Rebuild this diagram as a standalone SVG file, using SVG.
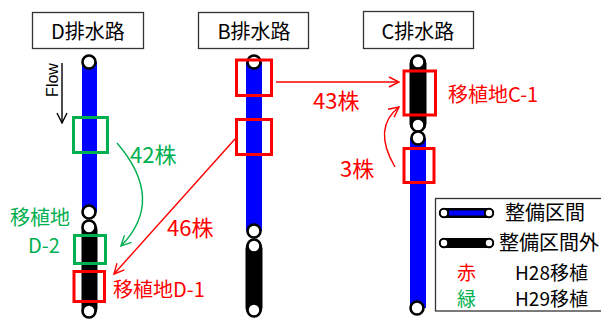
<svg xmlns="http://www.w3.org/2000/svg" width="601" height="321" viewBox="0 0 601 321">
<style>
text{font-family:"Noto Sans CJK JP","Liberation Sans",sans-serif}
.lbl{fill:#fff;stroke:#333;stroke-width:1.3}
.lt{font-size:20px;fill:#000;text-anchor:middle}
.blue{fill:#0000ff}
.blk{fill:#000}
.node{fill:#fff;stroke:#000;stroke-width:2.6}
.rbox{fill:none;stroke:#ff0000;stroke-width:3}
.gbox{fill:none;stroke:#00b050;stroke-width:3}
.r{fill:#ff0000}
.g{fill:#00b050}
.big{font-size:22px}
.mid{font-size:20px}
.leg{font-size:20px;fill:#000}
</style>
<defs>
<marker id="ar" viewBox="0 0 12 12" refX="11" refY="6" markerWidth="12" markerHeight="12" markerUnits="userSpaceOnUse" orient="auto"><path d="M1,1 L11,6 L1,11" fill="none" stroke="#ff0000" stroke-width="1.4"/></marker>
<marker id="ag" viewBox="0 0 12 12" refX="11" refY="6" markerWidth="12" markerHeight="12" markerUnits="userSpaceOnUse" orient="auto"><path d="M1,1 L11,6 L1,11" fill="none" stroke="#00b050" stroke-width="1.4"/></marker>
<marker id="ak" viewBox="0 0 12 12" refX="11" refY="6" markerWidth="12" markerHeight="12" markerUnits="userSpaceOnUse" orient="auto"><path d="M1,1 L11,6 L1,11" fill="none" stroke="#000" stroke-width="1.4"/></marker>
</defs>

<g id="ditch-D">
<rect class="lbl" x="32.5" y="12.5" width="111" height="36"/>
<text class="lt" x="88" y="39">D排水路</text>
<rect class="blue" x="82" y="62" width="15" height="150"/>
<rect class="blk" x="81.5" y="222" width="16" height="94" rx="8"/>
<circle class="node" cx="89" cy="62" r="6.5"/>
<circle class="node" cx="89" cy="212" r="6.5"/>
<circle class="node" cx="89" cy="227" r="6.5"/>
<circle class="node" cx="89" cy="311" r="6.5"/>
<rect class="gbox" x="73.5" y="117.5" width="34" height="35"/>
<rect class="gbox" x="74.5" y="235.5" width="31" height="28"/>
<rect class="rbox" x="74" y="271.5" width="30.5" height="30"/>
<text class="g mid" x="10" y="225">移植地</text>
<text class="g mid" x="28" y="253">D-2</text>
<text class="r mid" x="113" y="297">移植地D-1</text>
</g>

<g id="flow">
<text transform="translate(58,80) rotate(-90)" font-size="16" text-anchor="middle" style="font-family:'Liberation Sans',sans-serif" fill="#000">Flow</text>
<line x1="62" y1="63" x2="62" y2="123" stroke="#000" stroke-width="1.4" marker-end="url(#ak)"/>
</g>

<g id="ditch-B">
<rect class="lbl" x="198.5" y="12.5" width="110" height="36"/>
<text class="lt" x="254" y="39">B排水路</text>
<rect class="blue" x="246" y="62" width="16" height="169"/>
<rect class="blk" x="245.5" y="240" width="17" height="76" rx="8.5"/>
<circle class="node" cx="254" cy="62" r="6.5"/>
<circle class="node" cx="254" cy="231" r="6.5"/>
<circle class="node" cx="254" cy="246" r="6.5"/>
<circle class="node" cx="254" cy="310" r="6.5"/>
<rect class="rbox" x="236.5" y="60" width="35" height="35.5"/>
<rect class="rbox" x="236.5" y="119.5" width="35" height="35"/>
</g>

<g id="ditch-C">
<rect class="lbl" x="363.5" y="11.5" width="110" height="37"/>
<text class="lt" x="418" y="39">C排水路</text>
<rect class="blk" x="409.5" y="55" width="17" height="77" rx="8.5"/>
<rect class="blue" x="410" y="138" width="16" height="170"/>
<circle class="node" cx="418" cy="62" r="6.5"/>
<circle class="node" cx="418" cy="125" r="6.5"/>
<circle class="node" cx="418" cy="138" r="6.5"/>
<circle class="node" cx="417" cy="308" r="6.5"/>
<rect class="rbox" x="404" y="71" width="31.5" height="44"/>
<rect class="rbox" x="404" y="148.5" width="30" height="34"/>
<text class="r mid" x="448" y="102">移植地C-1</text>
</g>

<g id="connectors">
<line x1="276" y1="82" x2="399" y2="82" stroke="#ff0000" stroke-width="1.4" marker-end="url(#ar)"/>
<line x1="235" y1="139" x2="114" y2="274" stroke="#ff0000" stroke-width="1.4" marker-end="url(#ar)"/>
<path d="M117,143 Q166,200 121,246" fill="none" stroke="#00b050" stroke-width="1.4" marker-end="url(#ag)"/>
<path d="M395,167 Q372,128 399,107" fill="none" stroke="#ff0000" stroke-width="1.4" marker-end="url(#ar)"/>
<text class="r big" x="313" y="109">43株</text>
<text class="g big" x="130" y="163">42株</text>
<text class="r big" x="167" y="236">46株</text>
<text class="r big" x="340" y="177">3株</text>
</g>

<g id="legend">
<rect x="435.5" y="198.5" width="180" height="112.5" fill="#fff" stroke="#333" stroke-width="1.3"/>
<rect x="439" y="208" width="55" height="10" rx="5" fill="#000"/>
<rect x="449" y="210.5" width="35" height="5" fill="#0000ff"/>
<circle cx="444" cy="213" r="4.2" fill="#fff" stroke="#000" stroke-width="2"/>
<circle cx="489" cy="213" r="4.2" fill="#fff" stroke="#000" stroke-width="2"/>
<text class="leg" x="505" y="220">整備区間</text>
<rect x="439" y="238" width="55" height="10" rx="5" fill="#000"/>
<circle cx="444" cy="243" r="4.2" fill="#fff" stroke="#000" stroke-width="2"/>
<circle cx="489" cy="243" r="4.2" fill="#fff" stroke="#000" stroke-width="2"/>
<text class="leg" x="499" y="250">整備区間外</text>
<text class="r" font-size="19" x="457" y="280">赤</text>
<text font-size="19" x="515" y="280" fill="#000">H28移植</text>
<text class="g" font-size="19" x="457" y="306">緑</text>
<text font-size="19" x="515" y="306" fill="#000">H29移植</text>
</g>
</svg>
